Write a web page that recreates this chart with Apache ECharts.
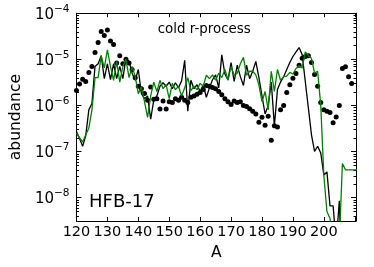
<!DOCTYPE html>
<html>
<head>
<meta charset="utf-8">
<script src="https://cdn.jsdelivr.net/npm/echarts@6/dist/echarts.min.js"></script>
<style>
  html, body { margin: 0; padding: 0; background: #fff; }
  #chart { width: 374px; height: 267px; }
</style>
</head>
<body>
<div id="chart"></div>
<script>
// mass number of the first entry in every array below
const firstA = 120

// model abundances, black line, A = 120..206
const blackLine = [
  2.7e-7, 1.9e-7, 1.3e-7, 2.2e-7, 8e-7, 1.1e-6, 7e-6, 8e-6, 1.2e-5, 3.8e-6,
  8e-6, 3.6e-6, 8e-6, 3.8e-6, 7e-6, 3.8e-6, 1.05e-5, 9e-6, 5e-6, 3.5e-6,
  6e-6, 1.8e-6, 1.4e-6, 1.6e-6, 5e-7, 1.3e-6, 1.6e-6, 2.6e-6, 3.1e-6, 2.6e-6,
  3.2e-6, 2.3e-6, 3.1e-6, 2.4e-6, 3.4e-6, 9.5e-6, 7.5e-7, 3.5e-6, 2.3e-6, 2.8e-6,
  2.0e-6, 2.8e-6, 1.5e-6, 2.4e-6, 3.6e-6, 4.6e-6, 2.4e-6, 1.25e-5, 4.8e-6, 3.6e-6,
  8.5e-6, 3.3e-6, 7.5e-6, 4.2e-6, 2.7e-6, 7.5e-6, 3.8e-6, 5.5e-6, 9e-6, 4e-6,
  1.6e-6, 6.5e-7, 1e-6, 3.2e-6, 3.6e-7, 2.2e-6, 3.2e-6, 4.2e-6, 6e-6, 8.5e-6,
  1.15e-5, 1.45e-5, 1.8e-5, 1.25e-5, 3.3e-6, 8.7e-7, 2.3e-7, 1e-7, 1.3e-7, 9.3e-8,
  3.1e-8, 3.6e-8, 6.6e-9, 6.6e-9, 1e-9, 8.5e-9, 1e-10
]

// model abundances, green line, A = 120..211
const greenLine = [
  2.5e-7, 2.0e-7, 1.6e-7, 2.3e-7, 3.2e-7, 8e-7, 4e-6, 4e-6, 1.2e-5, 6.5e-6,
  1.6e-5, 7e-6, 3.5e-6, 9e-6, 3.2e-6, 7e-6, 1e-5, 4e-6, 7e-6, 4.2e-6,
  1.8e-6, 2.5e-6, 1.2e-6, 5.5e-7, 1.6e-6, 3.2e-6, 2e-6, 3.5e-6, 2.3e-6, 2.8e-6,
  1.4e-6, 3e-6, 2.2e-6, 2.6e-6, 1.6e-6, 2.4e-6, 4e-6, 2.1e-6, 2.6e-6, 2.2e-6,
  3e-6, 2.6e-6, 4.5e-6, 3.8e-6, 4.6e-6, 3.5e-6, 5e-6, 4e-6, 6e-6, 3.5e-6,
  7e-6, 4.5e-6, 5e-6, 8e-6, 1.1e-5, 4.5e-6, 5.5e-6, 5.5e-6, 4.6e-6, 2.8e-6,
  1.2e-6, 2e-6, 8e-7, 5.5e-6, 2e-6, 6e-6, 3.5e-6, 4.2e-6, 4.3e-6, 5.2e-6,
  4.8e-6, 6.3e-6, 7.2e-6, 6.5e-6, 1.45e-5, 1.2e-5, 1.05e-5, 5e-6, 5.5e-6, 1e-6,
  3e-8, 5e-9, 3.5e-9, 1e-9, 1e-9, 1e-9, 5.5e-8, 4e-8, 4e-8, 4e-8,
  4e-8, 4e-8
]

// observed abundances, black dots, A = 120..209
const solarDots = [
  2.1e-6, 2.9e-6, 3.7e-6, 3.3e-6, 5.2e-6, 7e-6, 1.4e-5, 2.3e-5, 4.0e-5, 3.3e-5,
  4.3e-5, 2.5e-5, 2.1e-5, 8.3e-6, 1.2e-5, 8e-6, 1.0e-5, 8.3e-6, 6e-6, 4e-6,
  2.6e-6, 2.3e-6, 1.8e-6, 1.3e-6, 2.5e-6, 1.35e-6, 1.4e-6, 8.3e-7, 1.25e-6, 8.3e-7,
  1.2e-6, 1.15e-6, 1.4e-6, 1.3e-6, 1.5e-6, 1.3e-6, 1.15e-6, 1.5e-6, 1.6e-6, 1.75e-6,
  1.9e-6, 2.2e-6, 2.7e-6, 2.6e-6, 2.45e-6, 2.3e-6, 2.0e-6, 1.7e-6, 1.4e-6, 1.2e-6,
  1.05e-6, 1.25e-6, 1.15e-6, 1.2e-6, 1.0e-6, 9.5e-7, 8.5e-7, 7.5e-7, 6.5e-7, 4.3e-7,
  5.5e-7, 3.7e-7, 5.8e-7, 1.75e-7, 3.6e-7, 3.4e-7, 8e-7, 1.0e-6, 1.9e-6, 2.8e-6,
  3.9e-6, 4.9e-6, 7.4e-6, 1.05e-5, 1.15e-5, 1.2e-5, 8.5e-6, 4.7e-6, 2.6e-6, 1.15e-6,
  8e-7, 7.5e-7, 7e-7, 4.2e-7, 5.6e-7, 1e-6, 6.3e-6, 6.9e-6, 4.2e-6, 3.0e-6
]

const xTickLabels = [120, 130, 140, 150, 160, 170, 180, 190, 200]
const yTickExponents = [-8, -7, -6, -5, -4]
const xMin = 120
const xMax = 210.4
const yMin = 3.1e-9
const yMax = 1e-4

const font = 'DejaVu Sans'

const toPairs = (vals) => vals.map((v, i) => [firstA + i, v])

// minor log ticks (2..9 x 10^n) for the left and right spines
const minorTicks = []
yTickExponents.concat([-9]).forEach((e) => {
  for (let k = 2; k <= 9; k++) {
    const v = k * Math.pow(10, e)
    if (v > yMin && v < yMax) minorTicks.push([xMin, v])
  }
})

const expOf = (v) => {
  const l = Math.log10(v)
  const n = Math.round(l)
  return Math.abs(l - n) < 1e-6 ? n : null
}

const axisLine = { show: true, lineStyle: { color: '#000', width: 1 } }

const option = {
  animation: false,
  backgroundColor: '#fff',
  grid: { left: 56.7, top: 13.2, width: 299.3, height: 207.8 },
  xAxis: [
    {
      type: 'value',
      min: xMin,
      max: xMax,
      interval: 10,
      name: 'A',
      nameLocation: 'middle',
      nameGap: 16,
      nameTextStyle: { fontFamily: font, fontSize: 15.5, color: '#000' },
      axisLine: axisLine,
      axisTick: { show: true, inside: true, length: 4, lineStyle: { color: '#000' } },
      axisLabel: {
        margin: 4,
        fontFamily: font,
        fontSize: 14.5,
        color: '#000',
        showMaxLabel: false,
        formatter: (v) => (xTickLabels.indexOf(v) >= 0 ? String(v) : ''),
      },
      splitLine: { show: false },
    },
    {
      type: 'value',
      position: 'top',
      min: xMin,
      max: xMax,
      interval: 10,
      axisLine: axisLine,
      axisTick: { show: true, inside: true, length: 4, lineStyle: { color: '#000' } },
      axisLabel: { show: false },
      splitLine: { show: false },
    },
  ],
  yAxis: [
    {
      type: 'log',
      logBase: 10,
      min: yMin,
      max: yMax,
      name: 'abundance',
      nameLocation: 'middle',
      nameGap: 41,
      nameTextStyle: { fontFamily: font, fontSize: 15.5, color: '#000' },
      axisLine: axisLine,
      axisTick: { show: true, inside: true, length: 5, lineStyle: { color: '#000' } },
      axisLabel: {
        margin: 7,
        showMinLabel: false,
        formatter: (v) => {
          const n = expOf(v)
          if (n === null || yTickExponents.indexOf(n) < 0) return ''
          return '{b|10}{s|\u2212' + Math.abs(n) + '}'
        },
        rich: {
          b: { fontFamily: font, fontSize: 15, color: '#000', padding: [4, 0, 0, 0] },
          s: { fontFamily: font, fontSize: 10.5, color: '#000', verticalAlign: 'top' },
        },
      },
      splitLine: { show: false },
    },
    {
      type: 'log',
      logBase: 10,
      position: 'right',
      min: yMin,
      max: yMax,
      axisLine: axisLine,
      axisTick: { show: true, inside: true, length: 5, lineStyle: { color: '#000' } },
      axisLabel: { show: false },
      splitLine: { show: false },
    },
  ],
  graphic: [
    {
      type: 'text',
      x: 204.2,
      y: 30,
      style: {
        text: 'cold r-process',
        fontFamily: font,
        fontSize: 13.4,
        fill: '#000',
        align: 'center',
        verticalAlign: 'middle',
      },
    },
    {
      type: 'text',
      x: 89,
      y: 202,
      style: {
        text: 'HFB-17',
        fontFamily: font,
        fontSize: 18,
        fill: '#000',
        align: 'left',
        verticalAlign: 'middle',
      },
    },
  ],
  series: [
    {
      type: 'custom',
      silent: true,
      data: minorTicks,
      renderItem: (params, api) => {
        const cs = params.coordSys
        const y = Math.round(api.coord([xMin, api.value(1)])[1]) + 0.5
        return {
          type: 'group',
          children: [
            { type: 'line', shape: { x1: cs.x, y1: y, x2: cs.x + 2.5, y2: y }, style: { stroke: '#000', lineWidth: 1 } },
            { type: 'line', shape: { x1: cs.x + cs.width - 2.5, y1: y, x2: cs.x + cs.width, y2: y }, style: { stroke: '#000', lineWidth: 1 } },
          ],
        }
      },
    },
    {
      name: 'black',
      type: 'line',
      data: toPairs(blackLine),
      showSymbol: false,
      clip: true,
      lineStyle: { color: '#000', width: 1.3 },
      itemStyle: { color: '#000' },
    },
    {
      name: 'green',
      type: 'line',
      data: toPairs(greenLine),
      showSymbol: false,
      clip: true,
      lineStyle: { color: '#008000', width: 1.3 },
      itemStyle: { color: '#008000' },
    },
    {
      name: 'dots',
      type: 'scatter',
      data: toPairs(solarDots),
      symbol: 'circle',
      symbolSize: 5,
      itemStyle: { color: '#000', opacity: 1 },
    },
  ],
}

const myChart = echarts.init(document.getElementById('chart'))
myChart.setOption(option)
</script>
</body>
</html>
